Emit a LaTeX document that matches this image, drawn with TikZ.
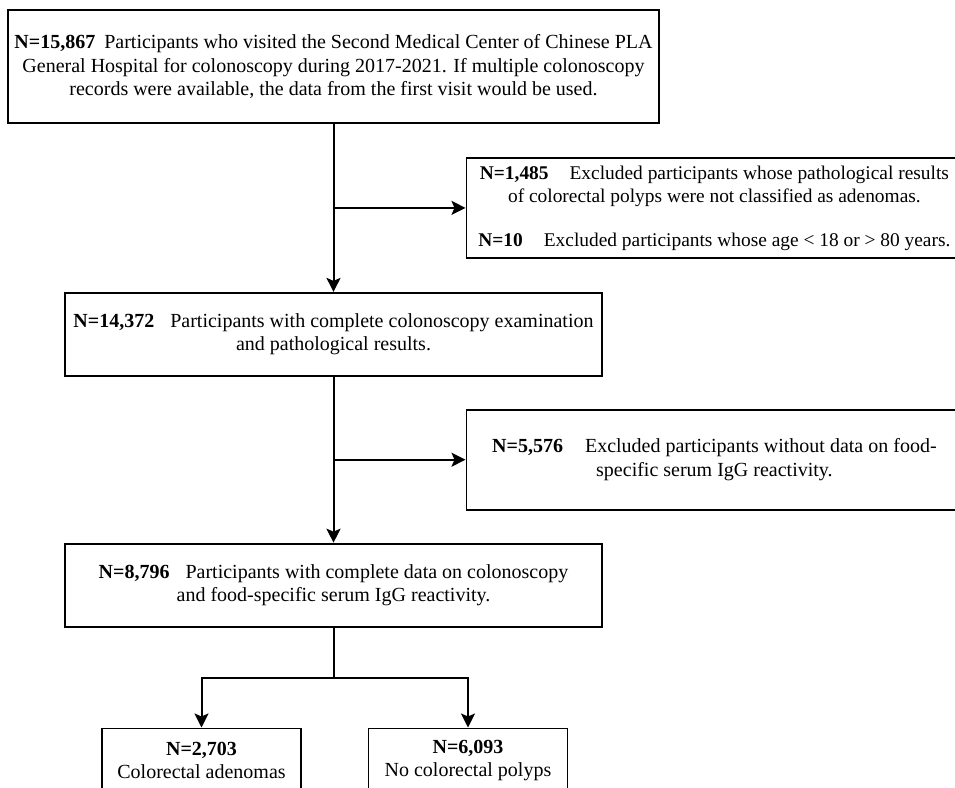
\documentclass[tikz,border=0pt]{standalone}
\usepackage{fontspec}
\setmainfont{Liberation Serif}
\usetikzlibrary{arrows.meta,positioning,calc}
\tikzset{
  box/.style={draw, line width=1.8pt, align=center, font=\fontsize{20}{23.5}\selectfont, inner sep=4pt, fill=white},
  stage/.style={box, minimum width=537pt, minimum height=83pt},
  excl/.style={box, minimum width=496pt, minimum height=100pt},
  group/.style={box, minimum width=199pt, minimum height=64pt},
  arr/.style={-{Stealth[length=14pt, width=14pt, inset=3pt]}, line width=2pt},
  link/.style={line width=2pt}}

\begin{document}
\begin{tikzpicture}[x=1pt, y=-1pt]
  \useasboundingbox (0,0) rectangle (955,787);
  \clip (0,0) rectangle (955,787);
  \node[box, minimum width=651pt, minimum height=113pt] (visit) at (333.5,66.5)
    {\textbf{N=15,867}\hspace{9pt}Participants who visited the Second Medical Center of Chinese PLA\\
     General Hospital for colonoscopy during 2017-2021. If multiple colonoscopy\\
     records were available, the data from the first visit would be used.};
  \node[stage, below=168pt of visit] (compl)
    {\textbf{N=14,372}\hspace{16pt}Participants with complete colonoscopy examination\\and pathological results.};
  \coordinate (j1) at ($(visit.south)!0.5!(compl.north)$);
  \node[excl, right=132pt of j1, font=\fontsize{19.4}{23.5}\selectfont] (noadn)
    {\textbf{N=1,485}\hspace{21pt}Excluded participants whose pathological results\\
     of colorectal polyps were not classified as adenomas.\\[20pt]
     \textbf{N=10}\hspace{21pt}Excluded participants whose age < 18 or > 80 years.};
  \node[stage, below=166pt of compl] (igg)
    {\textbf{N=8,796}\hspace{16pt}Participants with complete data on colonoscopy\\and food-specific serum IgG reactivity.};
  \coordinate (j2) at ($(compl.south)!0.5!(igg.north)$);
  \node[excl, right=132pt of j2] (noigg)
    {\textbf{N=5,576}\hspace{22pt}Excluded participants without data on food-\\specific serum IgG reactivity.};
  \coordinate[below=50pt of igg] (split);
  \node[group, below=50pt of split, xshift=-132pt] (adn) {\textbf{N=2,703}\\Colorectal adenomas};
  \node[group, below=50pt of split, xshift=134.5pt] (nopol) {\textbf{N=6,093}\\No colorectal polyps};
  \draw[arr] (visit) -- (compl);
  \draw[arr] (j1) -- (noadn);
  \draw[arr] (compl) -- (igg);
  \draw[arr] (j2) -- (noigg);
  \draw[link] (igg) -- (split);
  \draw[arr] (split) -| (adn);
  \draw[arr] (split) -| (nopol);
\end{tikzpicture}
\end{document}
